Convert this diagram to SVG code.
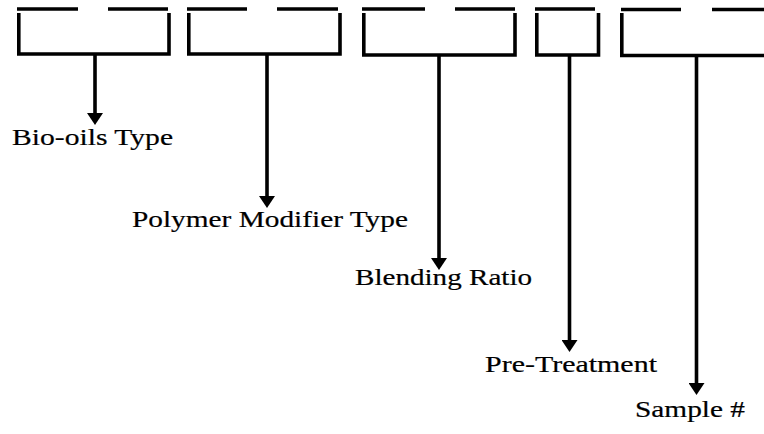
<svg xmlns="http://www.w3.org/2000/svg" width="764" height="434" viewBox="0 0 764 434">
<style>
.b{fill:none;stroke:#000;stroke-width:3.6;stroke-linecap:butt;stroke-linejoin:miter}
.c{fill:none;stroke:#000;stroke-width:3.6}
.t{font-family:"Liberation Serif","Times New Roman",serif;font-size:23px;fill:#000;stroke:#000;stroke-width:0.2}
</style>
<defs>
<marker id="ah" viewBox="0 0 12 16" refX="4" refY="8" markerWidth="12" markerHeight="16" markerUnits="userSpaceOnUse" orient="auto">
<path d="M0,0 L12,8 L0,16 z" fill="#000"/>
</marker>
</defs>
<g id="field1">
<path class="b" d="M17,9 H78 M108,9 H168 M18.8,13 V54 H169 V13"/>
</g>
<g id="field2">
<path class="b" d="M187,9 H247 M277,9 H338 M188.8,13 V54 H340 V13"/>
</g>
<g id="field3">
<path class="b" d="M362,9 H425 M455,9 H515 M363.8,13 V55 H515 V13"/>
</g>
<g id="field4">
<path class="b" d="M535,9 H595 M536.8,13 V55 H598.5 V13"/>
</g>
<g id="field5">
<path class="b" d="M621,9.5 H681 M712,9.5 H764 M621.8,13 V55.5 H764"/>
</g>
<g id="connectors">
<line class="c" x1="95" y1="54" x2="95" y2="117" marker-end="url(#ah)"/>
<line class="c" x1="267" y1="54" x2="267" y2="200" marker-end="url(#ah)"/>
<line class="c" x1="439" y1="55" x2="439" y2="262" marker-end="url(#ah)"/>
<line class="c" x1="569.5" y1="55" x2="569.5" y2="344" marker-end="url(#ah)"/>
<line class="c" x1="696.5" y1="55.5" x2="696.5" y2="387" marker-end="url(#ah)"/>
</g>
<g id="label1" transform="translate(12,145) scale(1.27,1)"><text class="t" x="0" y="0" textLength="126.8" lengthAdjust="spacingAndGlyphs">Bio-oils Type</text></g>
<g id="label2" transform="translate(132,227) scale(1.27,1)"><text class="t" x="0" y="0" textLength="217.3" lengthAdjust="spacingAndGlyphs">Polymer Modifier Type</text></g>
<g id="label3" transform="translate(355,285) scale(1.27,1)"><text class="t" x="0" y="0" textLength="139.4" lengthAdjust="spacingAndGlyphs">Blending Ratio</text></g>
<g id="label4" transform="translate(485,372) scale(1.27,1)"><text class="t" x="0" y="0" textLength="135.4" lengthAdjust="spacingAndGlyphs">Pre-Treatment</text></g>
<g id="label5" transform="translate(635,417) scale(1.27,1)"><text class="t" x="0" y="0" textLength="86.6" lengthAdjust="spacingAndGlyphs">Sample #</text></g>
</svg>
